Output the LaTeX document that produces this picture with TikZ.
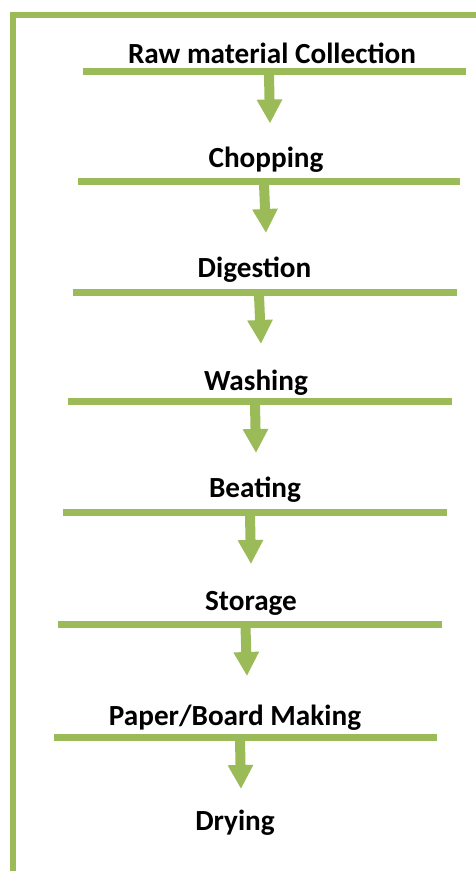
\documentclass[tikz,border=0pt]{standalone}
\usepackage{fontspec}
\setmainfont{Carlito}
\usetikzlibrary{arrows.meta}
\definecolor{leafgreen}{HTML}{9BBB59}

\begin{document}
\begin{tikzpicture}[x=1pt, y=-1pt, >={Triangle[width=24pt,length=24pt]}]
\tikzset{
  step label/.style={anchor=base, inner sep=0pt, font=\bfseries\fontsize{29.2}{34}\selectfont},
  bar/.style={draw=leafgreen, line width=7pt},
  flow arrow/.style={->, draw=leafgreen, line width=10pt},
  frame/.style={draw=leafgreen, line width=6pt, line join=miter},
}
\useasboundingbox (0,0) rectangle (476,871);

% outer frame (left and top only)
\coordinate (frame-bottom) at (13,871);
\coordinate (frame-corner) at (13,14.5);
\coordinate (frame-right) at (476,14.5);
\draw [frame] (frame-bottom) -- (frame-corner) -- (frame-right);

% steps: text / text x / baseline / bar y / bar left / bar right / arrow top x / arrow tip x
\foreach \t/\tx/\ty/\by/\bl/\br/\ax/\bx [count=\i] in {
    Raw material Collection/272/63/71.5/83/466/269/270,
    Chopping/266/167/181/78/460/264/266,
    Digestion/254.5/277/292/73/457/259/261,
    Washing/256/390/401/68/452/255/256,
    Beating/255/497/512/63/447/250/251,
    Storage/251/610/624/58/442/245.5/247,
    {Paper/Board Making}/235/725/737/54/437/240/241}
{
  \node [step label] (step-\i) at (\tx,\ty) {\t};
  \coordinate (bar-\i-w) at (\bl,\by);
  \coordinate (bar-\i-e) at (\br,\by);
  \draw [bar] (bar-\i-w) -- (bar-\i-e);
  \coordinate (arrow-\i-top) at (\ax,\by+3);
  \coordinate (arrow-\i-tip) at (\bx,\by+52);
  \draw [flow arrow] (arrow-\i-top) -- (arrow-\i-tip);
}

\node [step label] (step-8) at (235,830) {Drying};

\end{tikzpicture}
\end{document}
